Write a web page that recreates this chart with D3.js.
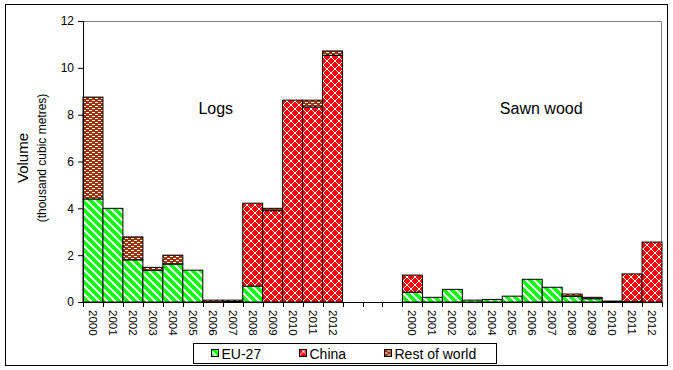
<!DOCTYPE html>
<html>
<head>
<meta charset="utf-8">
<script src="https://cdn.jsdelivr.net/npm/d3@7"></script>
<style>
  body { margin: 0; background: #fff; }
  svg { display: block; font-family: "Liberation Sans", Arial, sans-serif; }
</style>
</head>
<body>
<div id="chart"></div>
<script>
const years = ["2000", "2001", "2002", "2003", "2004", "2005", "2006",
               "2007", "2008", "2009", "2010", "2011", "2012"];
const groups = ["Logs", "Sawn wood"];
const seriesNames = ["EU-27", "China", "Rest of world"];

// Logs, thousand m3
const logsEU    = [4.40, 4.00, 1.80, 1.35, 1.62, 1.36, 0.00, 0.00, 0.68, 0.00, 0.00, 0.00, 0.00];
const logsChina = [0.00, 0.00, 0.00, 0.00, 0.00, 0.00, 0.00, 0.02, 3.54, 3.90, 8.62, 8.33, 10.54];
const logsRest  = [4.35, 0.00, 0.98, 0.13, 0.38, 0.00, 0.08, 0.06, 0.00, 0.10, 0.00, 0.29, 0.18];

// Sawn wood, thousand m3
const sawnEU    = [0.42, 0.20, 0.54, 0.08, 0.11, 0.25, 0.97, 0.63, 0.24, 0.14, 0.00, 0.02, 0.00];
const sawnChina = [0.73, 0.00, 0.00, 0.00, 0.00, 0.00, 0.00, 0.00, 0.00, 0.00, 0.00, 1.18, 2.56];
const sawnRest  = [0.00, 0.00, 0.00, 0.00, 0.00, 0.00, 0.00, 0.00, 0.10, 0.06, 0.04, 0.00, 0.00];

const yTicks = [0, 2, 4, 6, 8, 10, 12];
const gapSlots = ["gap1", "gap2", "gap3"];

const width = 673;
const height = 370;
const margin = {top: 21, right: 11, bottom: 68, left: 83};
const plotW = width - margin.left - margin.right;
const plotH = height - margin.top - margin.bottom;

const colors = {"EU-27": "#00ff00", "China": "#ff0000", "Rest of world": "#993300"};

// build rows: logs years, three empty slots, sawn wood years
const rows = [];
years.forEach((y, i) => rows.push({key: "L" + y, year: y, group: groups[0],
    "EU-27": logsEU[i], "China": logsChina[i], "Rest of world": logsRest[i]}));
gapSlots.forEach(g => rows.push({key: g, year: "", group: null,
    "EU-27": 0, "China": 0, "Rest of world": 0}));
years.forEach((y, i) => rows.push({key: "S" + y, year: y, group: groups[1],
    "EU-27": sawnEU[i], "China": sawnChina[i], "Rest of world": sawnRest[i]}));

const svg = d3.select("#chart")
    .append("svg")
    .attr("width", width)
    .attr("height", height);

// fill patterns
const defs = svg.append("defs");

const pEU = defs.append("pattern")
    .attr("id", "pat-eu")
    .attr("patternUnits", "userSpaceOnUse")
    .attr("width", 8).attr("height", 8);
pEU.append("rect").attr("width", 8).attr("height", 8).attr("fill", colors["EU-27"]);
pEU.append("path")
    .attr("d", "M-2,-2 L10,10 M-6,2 L2,10 M6,-2 L14,6")
    .attr("stroke", "#fff")
    .attr("stroke-width", 2.2);

const pCN = defs.append("pattern")
    .attr("id", "pat-cn")
    .attr("patternUnits", "userSpaceOnUse")
    .attr("width", 8).attr("height", 8);
pCN.append("rect").attr("width", 8).attr("height", 8).attr("fill", colors["China"]);
pCN.append("path")
    .attr("d", "M0,4 L4,0 L8,4 L4,8 Z")
    .attr("fill", "none")
    .attr("stroke", "#fff")
    .attr("stroke-width", 1);

const pRW = defs.append("pattern")
    .attr("id", "pat-rw")
    .attr("patternUnits", "userSpaceOnUse")
    .attr("width", 6).attr("height", 4);
pRW.append("rect").attr("width", 6).attr("height", 4).attr("fill", colors["Rest of world"]);
pRW.append("rect").attr("x", 0).attr("y", 1).attr("width", 3).attr("height", 1).attr("fill", "#fff");
pRW.append("rect").attr("x", 3).attr("y", 3).attr("width", 3).attr("height", 1).attr("fill", "#fff");

const fills = {"EU-27": "url(#pat-eu)", "China": "url(#pat-cn)", "Rest of world": "url(#pat-rw)"};

// outer frame
svg.append("rect")
    .attr("x", 5.5).attr("y", 4.5)
    .attr("width", 662).attr("height", 361)
    .attr("fill", "none")
    .attr("stroke", "#000");

const g = svg.append("g")
    .attr("transform", `translate(${margin.left},${margin.top})`);

const xScale = d3.scaleBand()
    .domain(rows.map(d => d.key))
    .range([0, plotW])
    .padding(0);

const yScale = d3.scaleLinear()
    .domain([0, 12])
    .range([plotH, 0]);

// plot area border (grey top and right)
g.append("path")
    .attr("d", `M0,0.5 H${plotW - 0.5} V${plotH}`)
    .attr("fill", "none")
    .attr("stroke", "#808080");

// stacked bars
const stack = d3.stack().keys(seriesNames);
const layers = stack(rows);

g.selectAll("g.layer")
    .data(layers)
    .join("g")
    .attr("class", "layer")
    .attr("fill", d => fills[d.key])
    .selectAll("rect")
    .data(d => d.filter(s => s[1] - s[0] > 0))
    .join("rect")
    .attr("x", d => xScale(d.data.key))
    .attr("y", d => yScale(d[1]))
    .attr("width", xScale.bandwidth())
    .attr("height", d => yScale(d[0]) - yScale(d[1]))
    .attr("stroke", "#000")
    .attr("stroke-width", 1);

// y axis
const yAxis = g.append("g")
    .call(d3.axisLeft(yScale).tickValues(yTicks).tickSize(5).tickPadding(4).tickFormat(d3.format("d")));
yAxis.select(".domain").attr("stroke", "#000");
yAxis.selectAll("text").attr("font-size", 12).attr("fill", "#000")
    .attr("font-family", "'Liberation Sans', Arial, sans-serif");

// x axis line with ticks between categories
const xAxis = g.append("g").attr("transform", `translate(0,${plotH})`);
xAxis.append("line")
    .attr("x1", 0).attr("x2", plotW)
    .attr("y1", 0.5).attr("y2", 0.5)
    .attr("stroke", "#000");
const bounds = rows.map(d => xScale(d.key)).concat([plotW]);
xAxis.selectAll("line.tick")
    .data(bounds)
    .join("line")
    .attr("class", "tick")
    .attr("x1", d => Math.round(d) + 0.5).attr("x2", d => Math.round(d) + 0.5)
    .attr("y1", 0).attr("y2", 5)
    .attr("stroke", "#000");
xAxis.selectAll("text")
    .data(rows.filter(d => d.year !== ""))
    .join("text")
    .attr("transform", d => `translate(${xScale(d.key) + xScale.bandwidth() / 2},8) rotate(90)`)
    .attr("dy", "0.35em")
    .attr("text-anchor", "start")
    .attr("font-size", 11.5)
    .text(d => d.year);

// group labels
const groupPos = [
    {name: groups[0], key: "L2006", shift: 3},
    {name: groups[1], key: "S2006", shift: 9}
];
g.selectAll("text.group-label")
    .data(groupPos)
    .join("text")
    .attr("class", "group-label")
    .attr("x", d => xScale(d.key) + xScale.bandwidth() / 2 + d.shift)
    .attr("y", yScale(8) - 1)
    .attr("text-anchor", "middle")
    .attr("font-size", 16)
    .text(d => d.name);

// y axis titles
svg.append("text")
    .attr("transform", `translate(28,158) rotate(-90)`)
    .attr("text-anchor", "middle")
    .attr("font-size", 15)
    .text("Volume");
svg.append("text")
    .attr("transform", `translate(46,158) rotate(-90)`)
    .attr("text-anchor", "middle")
    .attr("font-size", 12)
    .text("(thousand cubic metres)");

// legend
const legend = svg.append("g").attr("transform", "translate(193.5,343.5)");
legend.append("rect")
    .attr("width", 303).attr("height", 20)
    .attr("fill", "#fff")
    .attr("stroke", "#000");
const legendX = [18, 106, 191];
const items = legend.selectAll("g.item")
    .data(seriesNames)
    .join("g")
    .attr("class", "item")
    .attr("transform", (d, i) => `translate(${legendX[i]},0)`);
items.append("rect")
    .attr("x", 0).attr("y", 6)
    .attr("width", 7).attr("height", 7)
    .attr("fill", d => fills[d])
    .attr("stroke", "#000");
items.append("text")
    .attr("x", 10).attr("y", 15)
    .attr("font-size", 14)
    .text(d => d);
</script>
</body>
</html>
